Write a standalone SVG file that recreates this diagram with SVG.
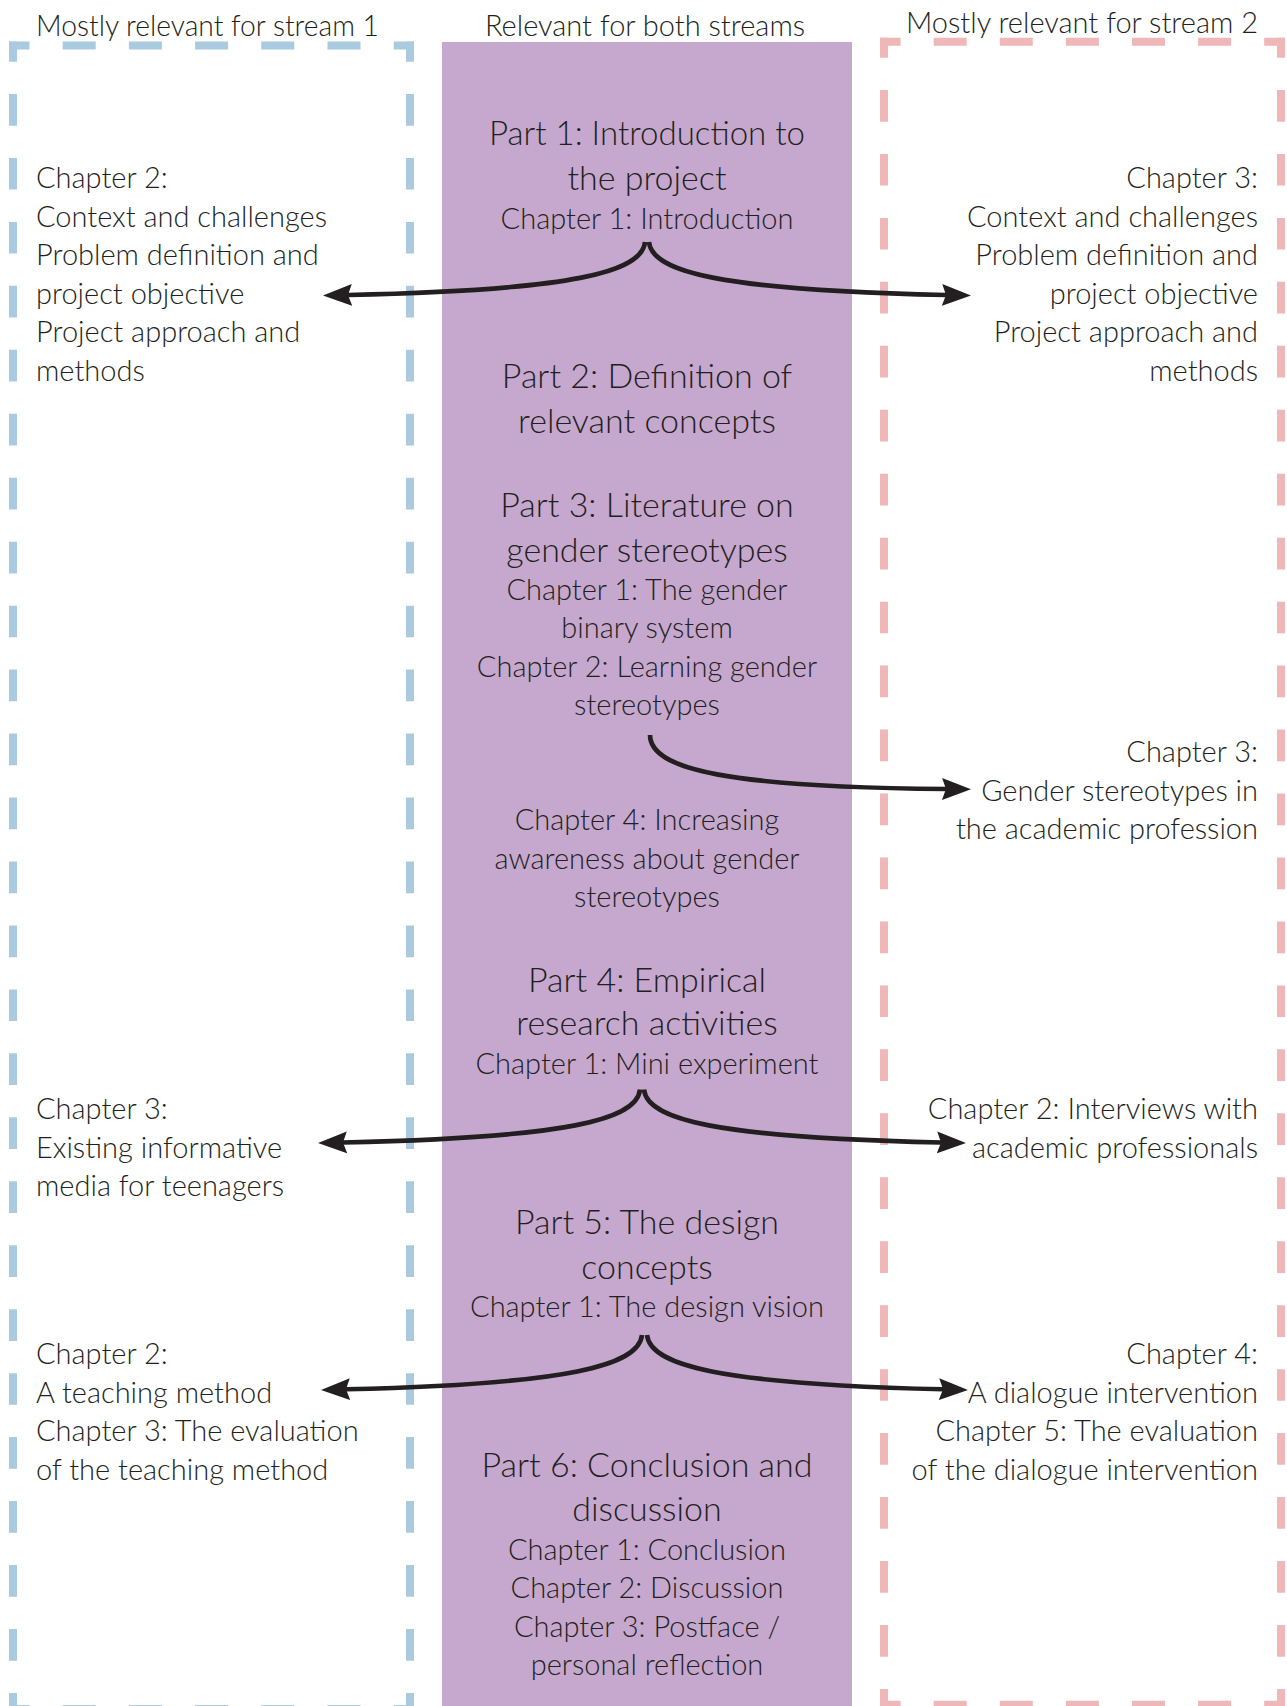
<svg xmlns="http://www.w3.org/2000/svg" width="1287" height="1706" viewBox="0 0 1287 1706">
<style>
.t{font-family:Lato,"Liberation Sans",sans-serif;font-weight:300;fill:#231f20}
.b{font-size:29px}
.ti{font-size:34px}
.h{font-size:29px}
.m{text-anchor:middle}
.e{text-anchor:end}
.bh{stroke:#a9cadf;stroke-width:8;fill:none;stroke-dasharray:33 33.2;stroke-dashoffset:12.5}
.bv{stroke:#a9cadf;stroke-width:8;fill:none;stroke-dasharray:31.7 32.26;stroke-dashoffset:11.5}
.ph{stroke:#efb7b7;stroke-width:8;fill:none;stroke-dasharray:33 33.1;stroke-dashoffset:12.4}
.pv{stroke:#efb7b7;stroke-width:8;fill:none;stroke-dasharray:31.7 32.26;stroke-dashoffset:11.7}
.c{fill:none;stroke:#231f20;stroke-width:4.6;marker-end:url(#ah)}
</style>
<defs>
<marker id="ah" markerUnits="userSpaceOnUse" markerWidth="32" markerHeight="26" refX="4" refY="13" orient="auto" viewBox="0 0 32 26">
<path d="M0,2 L29,13 L0,24 L4,13 Z" fill="#231f20"/>
</marker>
</defs>
<rect width="1287" height="1706" fill="#ffffff"/>
<g id="column-both">
<rect x="442" y="42" width="410" height="1664" fill="#c6a8ce"/>
</g>
<g id="column-stream1">
<line class="bh" x1="9" y1="45.5" x2="414" y2="45.5"/>
<line class="bh" x1="9" y1="1709" x2="414" y2="1709"/>
<line class="bv" x1="13" y1="41.5" x2="13" y2="1713"/>
<line class="bv" x1="410" y1="41.5" x2="410" y2="1713"/>
</g>
<g id="column-stream2">
<line class="ph" x1="880" y1="41.7" x2="1285" y2="41.7"/>
<line class="ph" x1="880" y1="1704.7" x2="1285" y2="1704.7"/>
<line class="pv" x1="884" y1="37.7" x2="884" y2="1708.7"/>
<line class="pv" x1="1281" y1="37.7" x2="1281" y2="1708.7"/>
</g>
<g id="headers">
<text class="t h" x="36" y="36" textLength="343" lengthAdjust="spacingAndGlyphs">Mostly relevant for stream 1</text>
<text class="t h m" x="645" y="36">Relevant for both streams</text>
<text class="t h e" x="1258" y="33">Mostly relevant for stream 2</text>
</g>
<g id="part1">
<text class="t ti m" x="647" y="145" textLength="316" lengthAdjust="spacingAndGlyphs">Part 1: Introduction to</text>
<text class="t ti m" x="647" y="190">the project</text>
<text class="t b m" x="647" y="229">Chapter 1: Introduction</text>
</g>
<g id="part2">
<text class="t ti m" x="647" y="388">Part 2: Definition of</text>
<text class="t ti m" x="647" y="433">relevant concepts</text>
</g>
<g id="part3">
<text class="t ti m" x="647" y="517">Part 3: Literature on</text>
<text class="t ti m" x="647" y="561.5">gender stereotypes</text>
<text class="t b m" x="647" y="600">Chapter 1: The gender</text>
<text class="t b m" x="647" y="638">binary system</text>
<text class="t b m" x="647" y="676.5">Chapter 2: Learning gender</text>
<text class="t b m" x="647" y="715">stereotypes</text>
</g>
<g id="part3-ch4">
<text class="t b m" x="647" y="830">Chapter 4: Increasing</text>
<text class="t b m" x="647" y="868.5">awareness about gender</text>
<text class="t b m" x="647" y="907">stereotypes</text>
</g>
<g id="part4">
<text class="t ti m" x="647" y="991.5">Part 4: Empirical</text>
<text class="t ti m" x="647" y="1035">research activities</text>
<text class="t b m" x="647" y="1074">Chapter 1: Mini experiment</text>
</g>
<g id="part5">
<text class="t ti m" x="647" y="1234">Part 5: The design</text>
<text class="t ti m" x="647" y="1278.5">concepts</text>
<text class="t b m" x="647" y="1317">Chapter 1: The design vision</text>
</g>
<g id="part6">
<text class="t ti m" x="647" y="1476.5">Part 6: Conclusion and</text>
<text class="t ti m" x="647" y="1521">discussion</text>
<text class="t b m" x="647" y="1559.5">Chapter 1: Conclusion</text>
<text class="t b m" x="647" y="1598">Chapter 2: Discussion</text>
<text class="t b m" x="647" y="1636.5">Chapter 3: Postface /</text>
<text class="t b m" x="647" y="1675">personal reflection</text>
</g>
<g id="s1-part1">
<text class="t b" x="36" y="188.3">Chapter 2:</text>
<text class="t b" x="36" y="226.8">Context and challenges</text>
<text class="t b" x="36" y="265.3">Problem definition and</text>
<text class="t b" x="36" y="303.8">project objective</text>
<text class="t b" x="36" y="342.3">Project approach and</text>
<text class="t b" x="36" y="380.8">methods</text>
</g>
<g id="s2-part1">
<text class="t b e" x="1258" y="188.3">Chapter 3:</text>
<text class="t b e" x="1258" y="226.8">Context and challenges</text>
<text class="t b e" x="1258" y="265.3">Problem definition and</text>
<text class="t b e" x="1258" y="303.8">project objective</text>
<text class="t b e" x="1258" y="342.3">Project approach and</text>
<text class="t b e" x="1258" y="380.8">methods</text>
</g>
<g id="s2-part3">
<text class="t b e" x="1258" y="762">Chapter 3:</text>
<text class="t b e" x="1258" y="800.5">Gender stereotypes in</text>
<text class="t b e" x="1258" y="839">the academic profession</text>
</g>
<g id="s1-part4">
<text class="t b" x="36" y="1119">Chapter 3:</text>
<text class="t b" x="36" y="1157.5">Existing informative</text>
<text class="t b" x="36" y="1196">media for teenagers</text>
</g>
<g id="s2-part4">
<text class="t b e" x="1258" y="1119">Chapter 2: Interviews with</text>
<text class="t b e" x="1258" y="1157.5">academic professionals</text>
</g>
<g id="s1-part5">
<text class="t b" x="36" y="1364">Chapter 2:</text>
<text class="t b" x="36" y="1402.5">A teaching method</text>
<text class="t b" x="36" y="1441">Chapter 3: The evaluation</text>
<text class="t b" x="36" y="1479.5">of the teaching method</text>
</g>
<g id="s2-part5">
<text class="t b e" x="1258" y="1364">Chapter 4:</text>
<text class="t b e" x="1258" y="1402.5">A dialogue intervention</text>
<text class="t b e" x="1258" y="1441">Chapter 5: The evaluation</text>
<text class="t b e" x="1258" y="1479.5">of the dialogue intervention</text>
</g>
<g id="connectors">
<path class="c" d="M649,242 C652,272 720,290 946,295"/>
<path class="c" d="M645,242 C642,272 574,290 348,295"/>
<path class="c" d="M650,735 C650,770 730,787 946,789"/>
<path class="c" d="M644,1089.5 C647,1119.5 715,1137.5 941,1142.5"/>
<path class="c" d="M640,1089.5 C637,1119.5 569,1137.5 343,1142.5"/>
<path class="c" d="M647,1335 C650,1365 718,1384 943,1389.3"/>
<path class="c" d="M642,1335 C639,1365 571,1384 346,1389.3"/>
</g>
</svg>
